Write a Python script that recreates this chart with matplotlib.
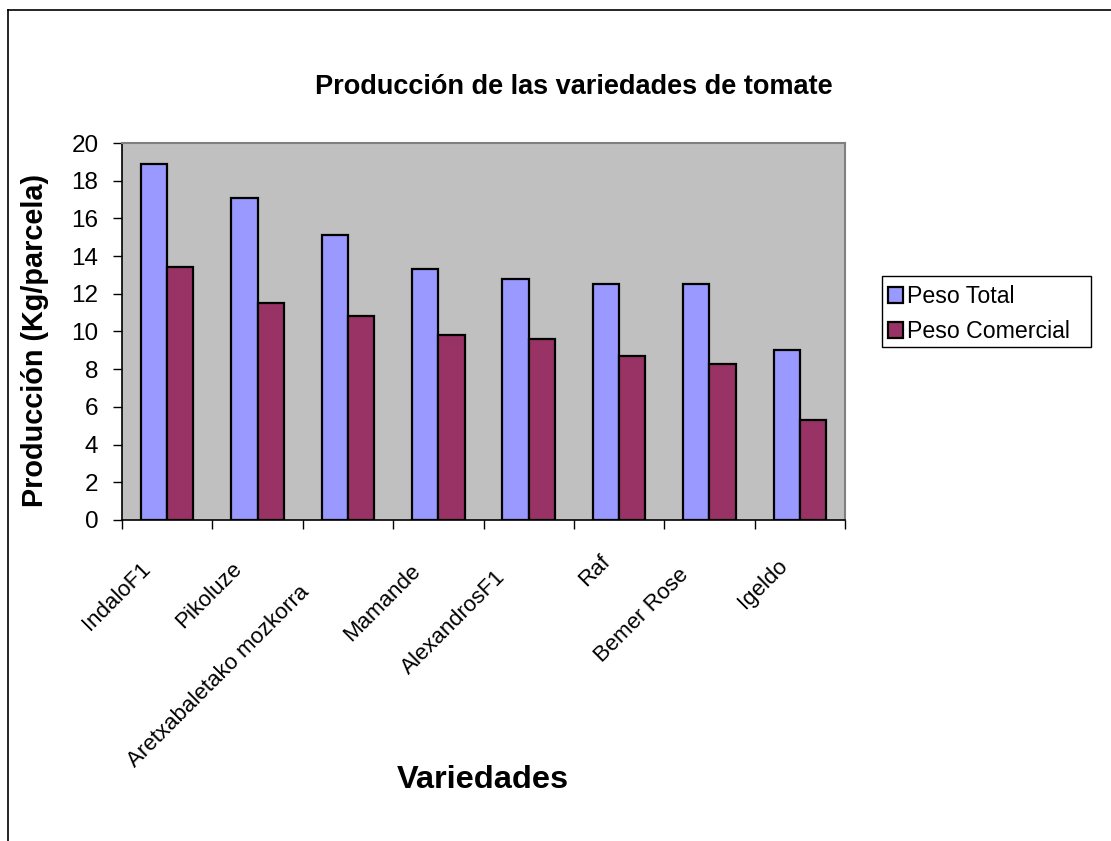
import matplotlib
matplotlib.use("Agg")
import matplotlib.pyplot as plt
import matplotlib.transforms as mtransforms
from matplotlib.patches import Patch, Rectangle
from matplotlib.lines import Line2D
import numpy as np

plt.rcParams['font.family'] = ['Liberation Sans', 'DejaVu Sans']

variedades = ["IndaloF1", "Pikoluze", "Aretxabaletako mozkorra", "Mamande",
              "AlexandrosF1", "Raf", "Bemer Rose", "Igeldo"]
peso_total = [18.9, 17.1, 15.1, 13.3, 12.8, 12.5, 12.5, 9.0]
peso_comercial = [13.4, 11.5, 10.8, 9.8, 9.6, 8.7, 8.3, 5.3]
yticks = list(range(0, 21, 2))

W, H = 1111, 841
DPI = 100
fig = plt.figure(figsize=(W / DPI, H / DPI), dpi=DPI)
fig.patch.set_facecolor("white")

# chart-area border (top and left edges visible)
fig.add_artist(Line2D([8 / W, 8 / W], [0, 1 - 10 / H], transform=fig.transFigure,
                      color="black", lw=1.2))
fig.add_artist(Line2D([8 / W, 1], [1 - 10 / H, 1 - 10 / H], transform=fig.transFigure,
                      color="black", lw=1.2))

left, right, top, bottom = 122, 845, 143, 520
ax = fig.add_axes([left / W, 1 - bottom / H, (right - left) / W, (bottom - top) / H])
ax.set_facecolor("#C0C0C0")

x = np.arange(len(variedades))
bw = 0.29
ax.bar(x - bw / 2, peso_total, bw, color="#9999FF", edgecolor="black", linewidth=1.6,
       label="Peso Total", zorder=3)
ax.bar(x + bw / 2, peso_comercial, bw, color="#993366", edgecolor="black", linewidth=1.6,
       label="Peso Comercial", zorder=3)

ax.set_xlim(-0.5, len(variedades) - 0.5)
ax.set_ylim(0, 20)
ax.set_yticks(yticks)
ax.tick_params(axis="y", direction="out", length=6.5, width=1, labelsize=17.5, pad=10.5)

# category boundaries get the tick marks; labels sit at the centers
ax.set_xticks(np.arange(len(variedades) + 1) - 0.5, minor=True)
ax.tick_params(axis="x", which="minor", direction="out", length=6.5, width=1)
ax.set_xticks(x)
ax.set_xticklabels(variedades, rotation=45, ha="right", va="center",
                   rotation_mode="anchor", fontsize=16)
ax.tick_params(axis="x", which="major", length=0, pad=0)

for s in ("top", "right"):
    ax.spines[s].set_color("#808080")
    ax.spines[s].set_linewidth(1.5)
for s in ("left", "bottom"):
    ax.spines[s].set_color("black")
    ax.spines[s].set_linewidth(1.2)

# shift each slanted label: longer labels slide further down-left
fig.canvas.draw()
renderer = fig.canvas.get_renderer()
for lab in ax.get_xticklabels():
    w, h, d = renderer.get_text_width_height_descent(lab.get_text(),
                                                     lab.get_fontproperties(),
                                                     ismath=False)
    slide = 0.2 * w / np.sqrt(2)
    dx = -7 - slide
    dy = -34 - slide
    lab.set_transform(lab.get_transform() +
                      mtransforms.ScaledTranslation(dx / DPI, dy / DPI,
                                                    fig.dpi_scale_trans))

fig.text(574 / W, 1 - 87 / H, "Producción de las variedades de tomate",
         ha="center", va="center", fontsize=19.5, fontweight="bold")
fig.text(35 / W, 1 - 340 / H, "Producción (Kg/parcela)", rotation=90,
         ha="center", va="center", fontsize=20.8, fontweight="bold")
fig.text(483 / W, 1 - 780 / H, "Variedades", ha="center", va="center",
         fontsize=23.4, fontweight="bold")

# legend box
lx0, ly0, lx1, ly1 = 882, 276, 1091, 347
fig.add_artist(Rectangle((lx0 / W, 1 - ly1 / H), (lx1 - lx0) / W, (ly1 - ly0) / H,
                         transform=fig.transFigure, facecolor="white",
                         edgecolor="black", linewidth=1.0))
handles = [Patch(facecolor="#9999FF", edgecolor="black", linewidth=1.6),
           Patch(facecolor="#993366", edgecolor="black", linewidth=1.6)]
leg = fig.legend(handles, ["Peso Total", "Peso Comercial"],
                 loc="upper left", bbox_to_anchor=(888 / W, 1 - 285 / H),
                 bbox_transform=fig.transFigure, fontsize=16.7, frameon=False,
                 handlelength=0.65, handleheight=0.7, handletextpad=0.15,
                 borderpad=0.0, labelspacing=0.52, borderaxespad=0)

fig.savefig("out.png", dpi=DPI, facecolor="white")
